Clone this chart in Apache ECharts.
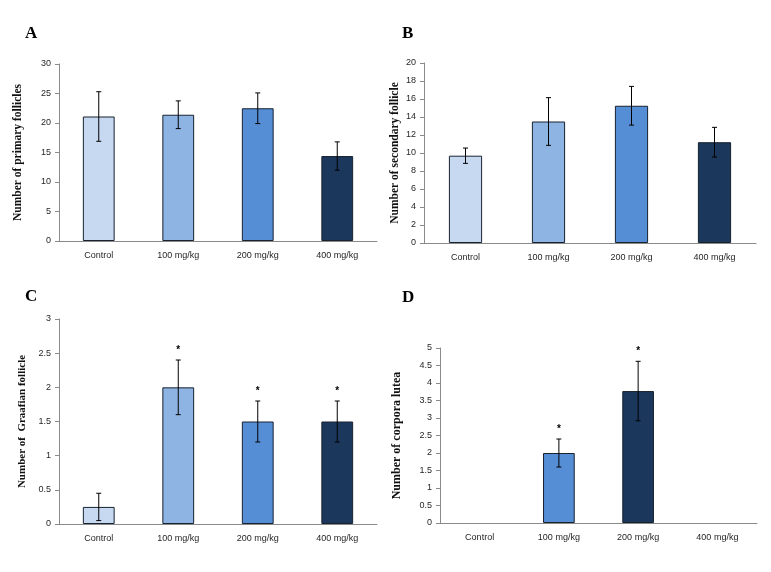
<!DOCTYPE html>
<html><head><meta charset="utf-8">
<script src="https://cdn.jsdelivr.net/npm/echarts@6/dist/echarts.min.js"></script>
<style>html,body{margin:0;padding:0;background:#fff}#c{width:771px;height:572px}</style>
</head><body><div id="c"></div>
<script>
const categories = ['Control', '100 mg/kg', '200 mg/kg', '400 mg/kg'];
const primaryMean = [21.1, 21.4, 22.5, 14.4];
const primaryErr = [4.2, 2.35, 2.6, 2.4];
const secondaryMean = [9.7, 13.5, 15.25, 11.2];
const secondaryErr = [0.85, 2.65, 2.15, 1.65];
const graafianMean = [0.25, 2.0, 1.5, 1.5];
const graafianErr = [0.2, 0.4, 0.3, 0.3];
const graafianSig = [false, true, true, true];
const corporaMean = [0, 2.0, 3.77, 0];
const corporaErr = [0, 0.4, 0.85, 0];
const corporaSig = [false, true, true, false];
const panelLetters = ['A', 'B', 'C', 'D'];
const yTitles = ['Number of primary follicles', 'Number of secondary follicle', 'Number of  Graafian follicle', 'Number of corpora lutea'];
const yMax = [30, 20, 3, 5];
const yStep = [5, 2, 0.5, 0.5];

const C1 = '#C6D9F1', C2 = '#8EB4E3', C3 = '#558ED5', C4 = '#1B375C';
const panelColors = [[C1, C2, C3, C4], [C1, C2, C3, C4], [C1, C2, C3, C4], [C1, C3, C4, C4]];
const grids = [
  {left: 59, top: 64, width: 318, height: 177},
  {left: 424, top: 63, width: 332, height: 180},
  {left: 59, top: 319, width: 318, height: 205},
  {left: 440, top: 348, width: 317, height: 175}
];
const nameGaps = [35, 23, 31, 37];
const titleSizes = [11.5, 11.5, 11, 12];
const means = [primaryMean, secondaryMean, graafianMean, corporaMean];
const errs = [primaryErr, secondaryErr, graafianErr, corporaErr];
const sigs = [[false,false,false,false],[false,false,false,false], graafianSig, corporaSig];

const tickFont = {fontFamily: 'Liberation Sans', fontSize: 9, color: '#262626'};
const xAxis = [], yAxis = [], series = [];
for (let p = 0; p < 4; p++) {
  xAxis.push({type: 'category', gridIndex: p, data: categories,
    axisLine: {lineStyle: {color: '#8a8a8a'}},
    axisTick: {length: 5, lineStyle: {color: '#8a8a8a'}},
    axisLabel: Object.assign({margin: 10}, tickFont)});
  yAxis.push({type: 'value', gridIndex: p, min: 0, max: yMax[p], interval: yStep[p],
    name: yTitles[p], nameLocation: 'middle', nameGap: nameGaps[p],
    nameTextStyle: {fontFamily: 'Liberation Serif', fontWeight: 'bold', fontSize: titleSizes[p], color: '#111'},
    axisLine: {show: true, lineStyle: {color: '#8a8a8a'}},
    axisTick: {show: true, length: 4, lineStyle: {color: '#8a8a8a'}},
    splitLine: {show: false},
    axisLabel: Object.assign({margin: 8}, tickFont)});
  const cols = panelColors[p];
  series.push({type: 'bar', xAxisIndex: p, yAxisIndex: p, barWidth: '40%',
    data: means[p].map((v, i) => ({value: v, itemStyle: {color: cols[i], borderColor: v > 0 ? '#18222f' : 'transparent', borderWidth: 1}})),
    silent: true, animation: false});
  const m = means[p], e = errs[p], s = sigs[p];
  series.push({type: 'custom', xAxisIndex: p, yAxisIndex: p, animation: false, silent: true, z: 5,
    data: m.map((v, i) => [i, v, e[i], s[i] ? 1 : 0]),
    renderItem: function (params, api) {
      const i = api.value(0), v = api.value(1), er = api.value(2), sg = api.value(3);
      const children = [];
      if (er > 0) {
        const top = api.coord([i, v + er]), bot = api.coord([i, v - er]);
        const x = top[0], hw = 2.5;
        const st = {stroke: '#000', lineWidth: 1};
        children.push({type: 'line', shape: {x1: x, y1: top[1], x2: x, y2: bot[1]}, style: st});
        children.push({type: 'line', shape: {x1: x - hw, y1: top[1], x2: x + hw, y2: top[1]}, style: st});
        children.push({type: 'line', shape: {x1: x - hw, y1: bot[1], x2: x + hw, y2: bot[1]}, style: st});
        if (sg) {
          children.push({type: 'text', x: x, y: top[1] - 10, style: {text: '*', fill: '#000', font: 'bold 10px Liberation Sans', textAlign: 'center', textVerticalAlign: 'middle'}});
        }
      }
      return {type: 'group', children: children};
    }});
}

const titlePos = [[25, 25], [402, 25], [25, 288], [402, 289]];
const chart = echarts.init(document.getElementById('c'), null, {renderer: 'canvas'});
chart.setOption({
  animation: false,
  backgroundColor: '#fff',
  title: panelLetters.map((t, k) => ({text: t, left: titlePos[k][0], top: titlePos[k][1], padding: 0,
    textStyle: {fontFamily: 'Liberation Serif', fontWeight: 'bold', fontSize: 17, color: '#000'}})),
  grid: grids,
  xAxis: xAxis,
  yAxis: yAxis,
  series: series
});
</script></body></html>
